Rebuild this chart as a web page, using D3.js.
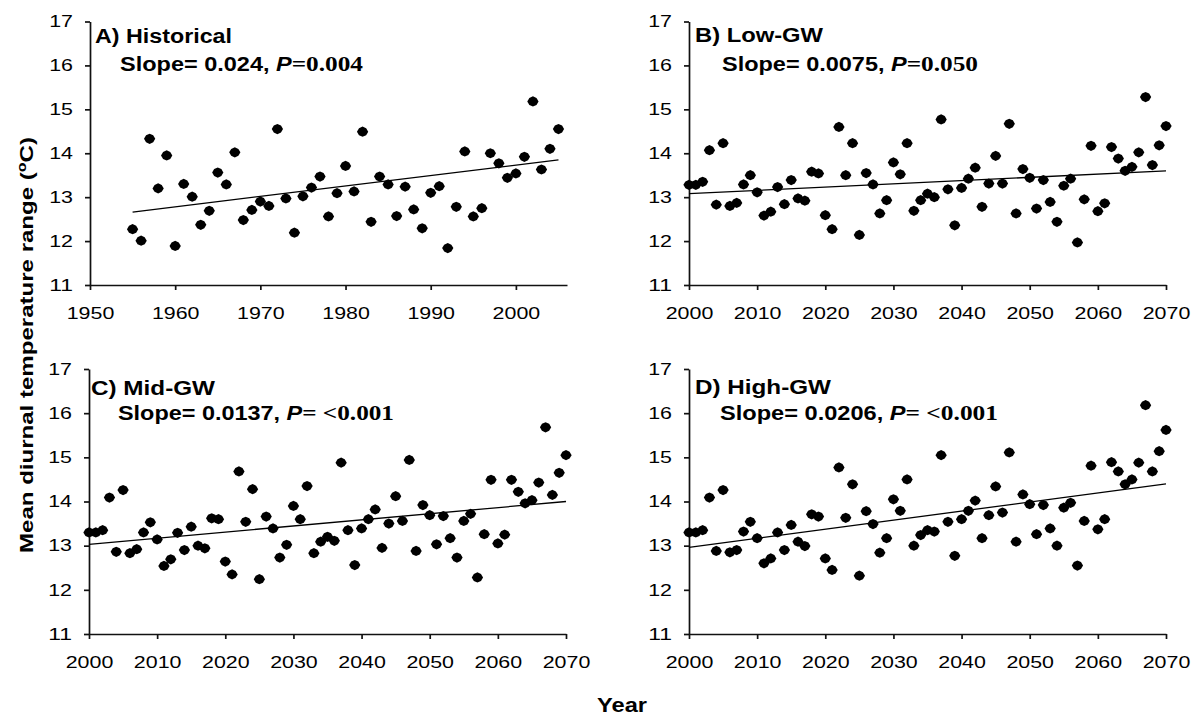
<!DOCTYPE html>

<head>
  <meta charset="utf-8">
  <script src="https://d3js.org/d3.v7.min.js"></script>
  <style>
    body { margin: 0; background: #fff; }
    text { font-family: "Liberation Sans", Arial, sans-serif; fill: #000; }
  </style>
</head>

<body>
  <script>

    // ---- data ----
    var histStart = 1955,
      scenStart = 2000;

    // A) observed, 1955-2005
    var historical = [12.27, 12.01, 14.33, 13.20, 13.95, 11.89, 13.30, 13.01, 12.37, 12.69,
      13.56, 13.29, 14.02, 12.48, 12.71, 12.90, 12.80, 14.55, 12.97, 12.19,
      13.02, 13.22, 13.47, 12.56, 13.09, 13.71, 13.13, 14.49, 12.44, 13.47,
      13.29, 12.57, 13.24, 12.72, 12.29, 13.10, 13.25, 11.84, 12.78, 14.04,
      12.56, 12.75, 14.00, 13.77, 13.44, 13.54, 13.92, 15.18, 13.63, 14.10,
      14.55];

    // B-D) scenarios, 2000-2070
    var lowGW = [13.28, 13.28, 13.35, 14.07, 12.83, 14.23, 12.80, 12.87, 13.29, 13.50,
      13.11, 12.58, 12.67, 13.23, 12.84, 13.39, 12.97, 12.92, 13.58, 13.54,
      12.59, 12.27, 14.60, 13.50, 14.23, 12.14, 13.55, 13.29, 12.63, 12.93,
      13.79, 13.52, 14.23, 12.69, 12.93, 13.08, 13.00, 14.77, 13.18, 12.36,
      13.21, 13.42, 13.67, 12.78, 13.31, 13.94, 13.31, 14.67, 12.63, 13.64,
      13.44, 12.74, 13.39, 12.89, 12.44, 13.26, 13.42, 11.97, 12.95, 14.17,
      12.68, 12.86, 14.14, 13.88, 13.60, 13.69, 14.02, 15.28, 13.73, 14.18,
      14.62];

    var midGW = [13.30, 13.30, 13.35, 14.09, 12.86, 14.26, 12.83, 12.92, 13.30, 13.53,
      13.14, 12.54, 12.69, 13.29, 12.90, 13.43, 13.00, 12.94, 13.62, 13.60,
      12.64, 12.35, 14.68, 13.54, 14.28, 12.24, 13.66, 13.39, 12.73, 13.02,
      13.90, 13.60, 14.35, 12.83, 13.09, 13.20, 13.11, 14.88, 13.35, 12.56,
      13.39, 13.60, 13.82, 12.95, 13.50, 14.12, 13.56, 14.94, 12.88, 13.92,
      13.69, 13.03, 13.67, 13.17, 12.73, 13.56, 13.72, 12.28, 13.26, 14.49,
      13.05, 13.25, 14.49, 14.22, 13.96, 14.03, 14.43, 15.68, 14.15, 14.65,
      15.05];

    var highGW = [13.30, 13.30, 13.35, 14.09, 12.88, 14.26, 12.85, 12.90, 13.32, 13.54,
      13.17, 12.60, 12.71, 13.30, 12.90, 13.47, 13.09, 12.99, 13.71, 13.66,
      12.71, 12.45, 14.77, 13.63, 14.39, 12.32, 13.78, 13.49, 12.84, 13.17,
      14.05, 13.79, 14.50, 13.00, 13.24, 13.35, 13.32, 15.05, 13.54, 12.77,
      13.60, 13.79, 14.02, 13.17, 13.69, 14.34, 13.75, 15.11, 13.09, 14.16,
      13.94, 13.26, 13.92, 13.39, 13.00, 13.86, 13.97, 12.55, 13.56, 14.81,
      13.37, 13.60, 14.89, 14.68, 14.39, 14.50, 14.88, 16.18, 14.68, 15.14,
      15.62];

    // fitted trend lines, end points [year, value]
    var trendHist = [[1955, 12.66], [2005, 13.85]],
      trendLow = [[2000, 13.08], [2070, 13.60]],
      trendMid = [[2000, 13.03], [2070, 14.00]],
      trendHigh = [[2000, 12.96], [2070, 14.40]];

    var yTicks = [11, 12, 13, 14, 15, 16, 17];
    var xTicksHist = [1950, 1960, 1970, 1980, 1990, 2000];
    var xTicksScen = [2000, 2010, 2020, 2030, 2040, 2050, 2060, 2070];

    var titles = ["A) Historical", "B) Low-GW", "C) Mid-GW", "D) High-GW"];
    var slopes = ["0.024", "0.0075", "0.0137", "0.0206"];
    var pValues = ["=0.004", "=0.050", "= <0.001", "= <0.001"];

    var yLabel = "Mean diurnal temperature range (";
    var xLabel = "Year";

    // ---- layout ----
    var outerWidth = 1191,
      outerHeight = 717;

    var panels = [
      { left: 90, top: 21.5, w: 477, h: 263.5, xDomain: [1950, 2006], xTicks: xTicksHist, start: histStart, values: historical, trend: trendHist,
        title: { x: 95, y: 43, len: 137 }, sub: { x: 120, y: 71, len: 243 } },
      { left: 689, top: 21.5, w: 477, h: 263.5, xDomain: [2000, 2070], xTicks: xTicksScen, start: scenStart, values: lowGW, trend: trendLow,
        title: { x: 695, y: 42, len: 128 }, sub: { x: 722, y: 71, len: 256 } },
      { left: 89, top: 369, w: 477, h: 265, xDomain: [2000, 2070], xTicks: xTicksScen, start: scenStart, values: midGW, trend: trendMid,
        title: { x: 91, y: 395, len: 124 }, sub: { x: 118, y: 420, len: 276 } },
      { left: 689, top: 369, w: 477, h: 265, xDomain: [2000, 2070], xTicks: xTicksScen, start: scenStart, values: highGW, trend: trendHigh,
        title: { x: 695, y: 394, len: 136 }, sub: { x: 720, y: 420, len: 278 } }
    ];

    // fat rounded diamond, like the excel markers
    var blob = {
      draw: function(ctx, size) {
        var r = Math.sqrt(size) / 2;
        ctx.moveTo(r * 1.1, 0);
        ctx.lineTo(r * 0.7, -r * 0.68);
        ctx.lineTo(0, -r);
        ctx.lineTo(-r * 0.7, -r * 0.68);
        ctx.lineTo(-r * 1.1, 0);
        ctx.lineTo(-r * 0.7, r * 0.68);
        ctx.lineTo(0, r);
        ctx.lineTo(r * 0.7, r * 0.68);
        ctx.closePath();
      }
    };
    var marker = d3.symbol().type(blob).size(105);

    var svg = d3.select("body")
      .append("svg")
      .attr("width", outerWidth)
      .attr("height", outerHeight);

    // the labels in the picture are wider than normal arial, so stretch them
    function stretch(sel, perChar) {
      sel.attr("textLength", function() { return this.textContent.length * perChar; })
        .attr("lengthAdjust", "spacingAndGlyphs");
    }

    panels.forEach(function(p, k) {
      var xScale = d3.scaleLinear().domain(p.xDomain).range([0, p.w]);
      var yScale = d3.scaleLinear().domain([11, 17]).range([p.h, 0]);

      var g = svg.append("g")
        .attr("transform", "translate(" + p.left + " " + p.top + ")");

      var yAxis = d3.axisLeft(yScale)
        .tickValues(yTicks)
        .tickFormat(d3.format("d"))
        .tickSize(5)
        .tickSizeOuter(0)
        .tickPadding(12);

      var xAxis = d3.axisBottom(xScale)
        .tickValues(p.xTicks)
        .tickFormat(d3.format("d"))
        .tickSize(5)
        .tickSizeOuter(0)
        .tickPadding(17);

      var yAxisContainer = g.append("g").call(yAxis);
      var xAxisContainer = g.append("g")
        .attr("transform", "translate(0 " + p.h + ")")
        .call(xAxis);

      [yAxisContainer, xAxisContainer].forEach(function(ax) {
        ax.attr("font-family", null).attr("font-size", null);
        ax.selectAll("path, line").attr("stroke", "#111").attr("stroke-width", 1.7);
        ax.selectAll("text").style("font-size", "16.5px");
        stretch(ax.selectAll("text"), 11.9);
      });

      // trend line
      g.append("path")
        .datum(p.trend)
        .attr("fill", "none")
        .attr("stroke", "#000")
        .attr("stroke-width", 1.3)
        .attr("d", d3.line()
          .x(function(d) { return xScale(d[0]); })
          .y(function(d) { return yScale(d[1]); }));

      // points
      g.selectAll("path.pt")
        .data(p.values)
        .enter()
        .append("path")
        .attr("class", "pt")
        .attr("d", marker)
        .attr("fill", "#000")
        .attr("transform", function(d, i) {
          return "translate(" + xScale(p.start + i) + " " + yScale(d) + ")";
        });

      // panel title + slope text
      svg.append("text")
        .attr("x", p.title.x)
        .attr("y", p.title.y)
        .attr("font-weight", "bold")
        .style("font-size", "19.5px")
        .attr("textLength", p.title.len)
        .attr("lengthAdjust", "spacingAndGlyphs")
        .text(titles[k]);

      var sub = svg.append("text")
        .attr("x", p.sub.x)
        .attr("y", p.sub.y)
        .style("font-size", "19.5px")
        .attr("textLength", p.sub.len)
        .attr("lengthAdjust", "spacingAndGlyphs");
      sub.append("tspan").attr("font-weight", "bold").text("Slope= " + slopes[k] + ", ");
      sub.append("tspan").attr("font-weight", "bold").attr("font-style", "italic").text("P");
      sub.append("tspan")
        .attr("font-weight", "bold")
        .style("font-family", "'Liberation Serif', 'Times New Roman', serif")
        .style("font-size", "21px")
        .text(pValues[k]);
    });

    // y axis label, shared
    var yl = svg.append("text")
      .attr("transform", "translate(33 345) rotate(-90)")
      .attr("text-anchor", "middle")
      .attr("font-weight", "bold")
      .style("font-size", "18px")
      .attr("textLength", 416)
      .attr("lengthAdjust", "spacingAndGlyphs");
    yl.append("tspan").text(yLabel);
    yl.append("tspan").attr("dy", -7).style("font-size", "12px").text("o");
    yl.append("tspan").attr("dy", 7).text("C)");

    // x axis label
    svg.append("text")
      .attr("x", 622)
      .attr("y", 712)
      .attr("text-anchor", "middle")
      .attr("font-weight", "bold")
      .style("font-size", "21px")
      .attr("textLength", 50)
      .attr("lengthAdjust", "spacingAndGlyphs")
      .text(xLabel);

  </script>
</body>
